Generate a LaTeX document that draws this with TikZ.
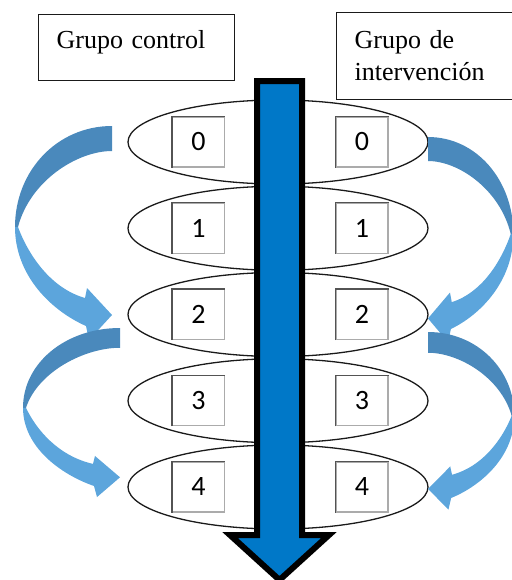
\documentclass[tikz,border=0pt]{standalone}
\usepackage{fontspec}
\setmainfont{Liberation Serif}
\newfontfamily\digits{Carlito}
\usetikzlibrary{shapes.geometric}
\definecolor{Ink}{HTML}{1A1A1A}
\definecolor{Edge}{HTML}{ABABAB}
\definecolor{Flow}{HTML}{0078C8}
\definecolor{BendBack}{HTML}{4A89BC}
\definecolor{BendFront}{HTML}{5CA5DC}

\begin{document}
\begin{tikzpicture}[x=0.5pt,y=-0.5pt,
  group/.style={draw=Ink,line width=0.6pt,anchor=north west,align=left,
    inner xsep=9pt,inner ysep=0pt,font=\fontsize{13}{16}\selectfont},
  phase/.style={draw=Ink,line width=0.65pt,ellipse,inner sep=0pt,
    minimum width=150pt,minimum height=42pt},
  wave/.style={draw=Edge,fill=white,line width=0.6pt,inner sep=0pt,
    minimum width=26pt,minimum height=25pt,font=\digits\fontsize{14}{14}\selectfont}]
  \clip (0,0) rectangle (512,580);
  \node[group,text width=80pt,text height=17pt,text depth=16pt] (ctrl) at (38,14) {Grupo control};
  \node[group,text width=82pt,minimum height=43.5pt] (interv) at (336,12) {Grupo de\\intervención};
  \foreach \i in {0,...,4} {
    \node[phase] (e\i) at (278,{142+86.25*\i}) {};
    \node[wave] (l\i) at (198.5,{142+86.25*\i}) {\i};
    \node[wave] (r\i) at (362,{142+86.25*\i}) {\i};
    % darker left and top edges
    \draw[Ink!75,line width=0.6pt] (l\i.south west) -- (l\i.north west) -- (l\i.north east);
    \draw[Ink!75,line width=0.6pt] (r\i.south west) -- (r\i.north west) -- (r\i.north east);
  }
  % time runs down the middle
  \draw[line width=3pt,draw=black,fill=Flow] (257,81) -- (302,81) -- (302,535) -- (329,535)
    -- (279.5,580) -- (230,535) -- (257,535) -- cycle;
  % bent arrows, two per side
  \foreach \px/\py/\sx/\sy in {112/126/1/1, 120/328/1/0.79, 428/137/-0.88/0.96, 428/332/-0.89/0.83} {
    \begin{scope}[shift={(\px,\py)},xscale=\sx,yscale=\sy]
      \fill[BendBack] (0,0) .. controls (-55,0) and (-97,45) .. (-97,101) -- (-94,101)
        .. controls (-82,55) and (-35,25) .. (0,25) -- cycle;
      \fill[BendFront] (-97,101) .. controls (-97,150) and (-60,185) .. (-26,200)
        -- (-23,214) -- (0,189) -- (-25,162) -- (-27,172)
        .. controls (-62,162) and (-84,128) .. (-94,101) -- cycle;
    \end{scope}
  }
\end{tikzpicture}
\end{document}
